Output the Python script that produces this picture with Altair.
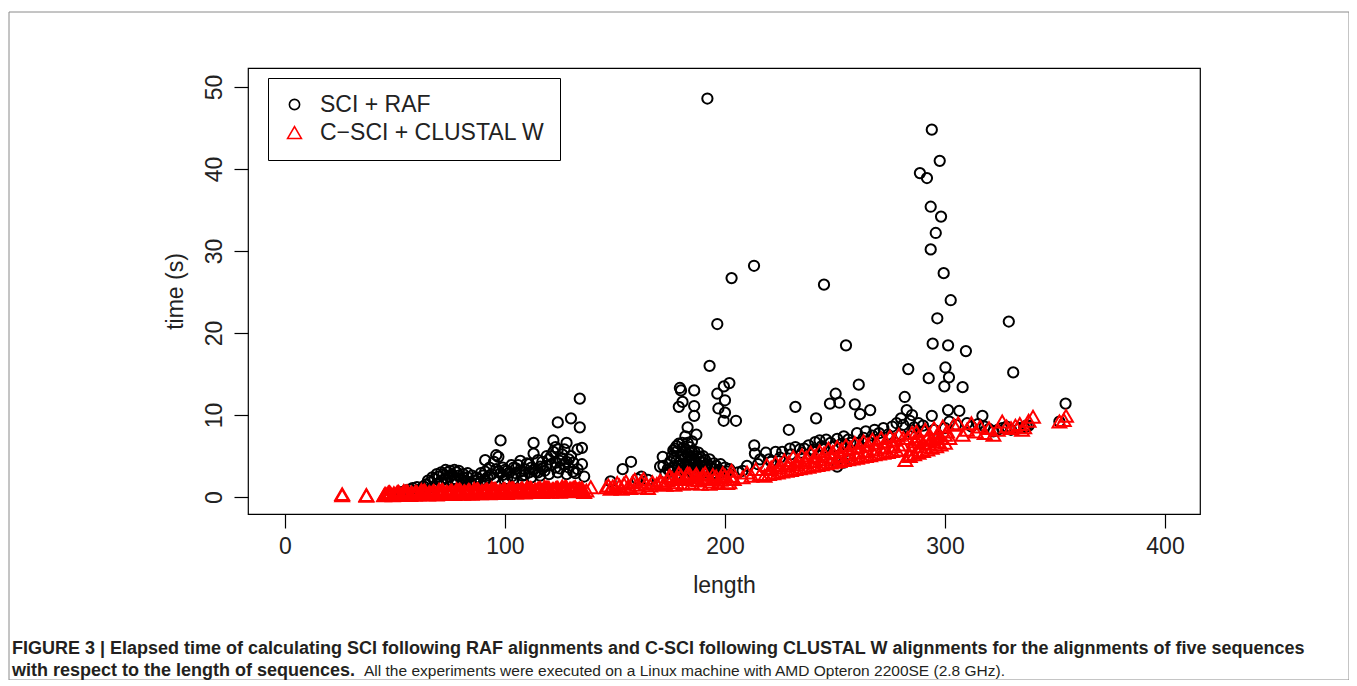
import altair as alt
import pandas as pd

# ---------------- data ----------------
sci_raf_length = [
    49, 53, 55, 57, 58, 60, 61, 62, 63, 64, 65, 66, 67, 67, 68, 69, 69, 70, 71, 71, 72, 72, 73, 73, 74, 74, 75,
    75, 76, 76, 77, 77, 78, 78, 79, 79, 80, 80, 81, 81, 82, 83, 83, 84, 85, 85, 86, 87, 87, 88, 89, 89, 90,
    91, 91, 91, 92, 93, 93, 94, 95, 95, 96, 96, 97, 97, 98, 98, 99, 99, 100, 100, 101, 101, 102, 103, 103, 104,
    104, 105, 105, 106, 107, 107, 108, 108, 109, 109, 110, 111, 111, 112, 112, 113, 113, 113, 114, 115, 115,
    116, 116, 117, 117, 118, 119, 119, 120, 120, 121, 121, 122, 122, 123, 123, 123, 124, 124, 124, 125, 125,
    126, 126, 127, 127, 128, 128, 128, 129, 129, 130, 130, 131, 131, 132, 133, 133, 134, 134, 135, 135, 136,
    148, 153.5, 157.3, 160, 162, 165,
    170.5, 171.7, 172, 173, 174, 175, 175, 176, 176.5, 177, 177.3, 178, 178, 179, 179, 179.5, 180, 180, 180.6,
    180.7, 181, 181, 182, 182, 183, 183, 184, 184, 185, 185, 186, 186, 186, 186, 187, 187, 188, 188, 189, 190,
    190, 191, 192, 192, 193, 193, 194, 195, 196, 196.5, 196.5, 197, 198, 199.5, 199.4, 200, 200, 202, 202, 203,
    205, 206, 208, 178, 180, 182, 183, 185, 187, 189, 191, 184, 186, 188, 176, 179, 181,
    177, 178, 180, 181, 182, 183, 184, 185, 186, 187, 188, 189, 190, 191, 192, 193, 194, 195, 196, 197, 198,
    199, 200, 201,
    213.2, 213.6, 213.3, 216, 218.6, 221, 223, 226, 229, 229.5, 232, 232, 234, 236, 238, 240, 241, 241.4, 243,
    244, 245, 246, 247.7, 248, 250.3, 251, 252, 253, 254, 255, 256, 257, 259, 260, 260.8, 261.4, 263, 264, 266,
    267, 268, 270, 272, 274, 276, 278, 280, 281, 281.7, 282.6, 283.3, 284, 285, 286, 288, 288.6, 290, 291.8,
    292.6, 293.5, 293.5, 294, 294, 294.4, 295.8, 296.5, 297.6, 298.2, 299.4, 299.7, 300.2, 301.4, 301.4, 301.8,
    302.6, 302, 305, 306.5, 308, 309.5, 310, 312, 315, 317, 320, 324, 329, 331, 328, 334, 337, 354.8, 352,
    248, 251, 254, 257,
    210, 215, 220, 225, 230, 235, 240, 245, 250, 255, 260, 265, 270, 275, 280, 285, 290, 295, 300,
    318, 322, 326, 330, 336, 338,
]
sci_raf_time = [
    0.3, 0.6, 0.8, 0.9, 1.1, 1.2, 0.9, 1.0, 1.3, 1.5, 2.0, 1.8, 1.2, 2.4, 2.2, 1.6, 2.8, 2.5, 2.0, 3.0, 2.8, 1.5,
    2.3, 3.3, 3.0, 2.1, 3.2, 2.5, 2.7, 1.9, 3.3, 2.2, 3.0, 2.0, 2.6, 3.2, 2.2, 1.4, 2.8, 2.4, 2.0, 2.4, 2.9, 1.8,
    1.5, 2.6, 2.0, 1.6, 2.4, 2.2, 1.9, 2.9, 2.6,
    3.1, 4.5, 2.1, 2.4, 3.6, 2.6, 2.8, 4.3, 2.3, 5.1, 3.4, 4.9, 3.1, 6.9, 2.9, 2.7, 3.6, 3.3, 2.0, 2.2, 3.2, 3.0,
    2.5, 3.9, 3.6, 2.2, 2.9, 3.5, 3.9, 3.1, 4.4, 2.6, 2.0, 3.4, 2.7, 4.1, 3.0, 4.0, 3.6, 2.4, 5.3, 6.6, 3.3, 3.1,
    4.5, 3.0, 3.7, 2.6, 4.3, 3.5, 3.2, 3.8, 5.0, 4.6, 2.8, 5.0, 4.0, 5.5, 6.9, 4.2, 6.1, 3.6, 9.1, 5.8, 3.0, 3.5,
    4.4, 5.2, 4.7, 4.0, 5.8, 6.6, 4.3, 2.8, 3.6, 4.6, 9.6, 5.0, 3.1, 4.2, 2.9, 5.8, 3.4, 12.0, 8.5, 6.0, 4.0, 2.5,
    1.9, 3.4, 4.3, 2.2, 2.5, 2.1,
    3.7, 4.9, 3.8, 2.9, 3.4, 3.1, 4.3, 5.0, 5.7, 3.6, 5.9, 4.4, 2.8, 11.0, 3.8, 13.3, 13.0, 5.2, 6.6, 11.6, 4.0,
    3.2, 4.8, 7.4, 8.5, 3.6, 6.1, 4.4, 5.5, 3.0, 13.0, 11.1, 9.9, 4.0, 7.6, 5.0, 3.5, 4.6, 3.8, 3.2, 4.2, 3.6,
    48.6, 3.0, 16.0, 3.8, 2.8, 3.4, 2.9, 21.1, 12.6, 10.8, 3.2, 13.5, 9.3, 11.8, 10.3, 13.9, 3.4, 26.7, 9.3, 3.0,
    3.2, 5.5, 4.5, 5.8, 5.2, 4.8, 4.2, 4.8, 4.5, 3.4, 3.2, 2.8, 3.6, 6.5, 6.0,
    4.8, 6.2, 3.5, 5.0, 3.9, 6.6, 5.4, 6.8, 5.6, 3.6, 5.4, 4.3, 5.0, 3.0, 4.0, 4.6, 3.5, 4.1, 3.8, 3.3, 4.0,
    3.0, 3.6, 3.1,
    28.2, 5.3, 6.3, 4.6, 5.4, 4.3, 5.5, 5.5, 8.2, 5.9, 11.0, 6.1, 5.8, 5.9, 6.3, 5.6, 6.7, 9.6, 6.9, 6.2, 25.9,
    7.0, 11.4, 6.6, 12.6, 7.1, 11.5, 6.5, 7.4, 18.5, 7.0, 6.6, 11.3, 7.8, 13.7, 10.1, 7.2, 8.0, 10.6, 7.5, 8.2,
    7.8, 8.4, 7.6, 8.6, 9.0, 9.6, 8.8, 12.2, 10.6, 15.6, 9.3, 10.0, 8.5, 9.0, 39.5, 8.7, 38.9, 14.5, 35.4, 30.2,
    44.8, 9.9, 18.7, 32.2, 21.8, 41.0, 34.2, 27.3, 13.5, 15.8, 18.5, 10.6, 14.6, 24.0, 9.2, 8.8, 10.5, 13.4, 17.8,
    9.0, 8.6, 8.9, 9.9, 8.3, 8.2, 21.4, 15.2, 8.6, 8.4, 8.7, 11.4, 9.2,
    4.0, 3.7, 4.2, 4.5,
    3.8, 4.0, 4.6, 4.8, 5.2, 5.4, 5.8, 6.0, 6.2, 6.4, 6.6, 6.8, 7.0, 7.2, 7.6, 7.8, 8.0, 8.2, 8.4,
    8.6, 8.0, 8.4, 8.2, 8.5, 8.7,
]

csci_length = [
    26, 26, 37, 37,
    45, 47, 49, 51, 53, 55, 57, 59, 61, 63, 65, 67, 69, 71, 73, 75, 77, 79, 81, 83, 85, 87, 89, 91, 93, 95,
    97, 99, 101, 103, 105, 107, 109, 111, 113, 115, 117, 119, 121, 123, 125, 127, 129, 131,
    48, 52, 56, 60, 64, 68, 72, 76, 80, 84, 88, 92, 96, 100, 104, 108, 112, 116, 120, 124, 128, 132,
    46, 50, 54, 58, 62, 66, 70, 74, 78, 82, 86, 90, 94, 98, 102, 106, 110, 114, 118, 122, 126, 130, 134,
    54, 62, 70, 78, 86, 94, 102, 110, 118, 126,
    47, 51, 55, 59, 63, 67, 71, 75, 79, 83, 87, 91, 95, 99, 103, 107, 111, 115, 119, 123, 127, 131, 135,
    45.5, 49.5, 53.5, 57.5, 61.5, 65.5, 69.5, 73.5, 77.5, 81.5, 85.5, 89.5, 93.5, 97.5, 101.5, 105.5, 109.5,
    113.5, 117.5, 121.5, 125.5, 129.5, 133.5,
    47.5, 51.5, 55.5, 59.5, 63.5, 67.5, 71.5, 75.5, 79.5, 83.5, 87.5, 91.5, 95.5, 99.5, 103.5, 107.5, 111.5,
    115.5, 119.5, 123.5, 127.5, 131.5,
    133, 135, 137, 139, 136, 146, 148, 147,
    150, 152, 154, 156, 158, 160, 162, 164, 166, 153, 157, 161, 165, 151, 155, 159, 163, 149, 167,
    169, 171, 172, 174, 176, 178, 180, 182, 184, 186, 188, 190, 192, 194, 196, 198, 200, 202, 204,
    173, 177, 181, 185, 189, 193, 197, 201, 183, 187, 203,
    175, 179, 183, 187, 191, 195, 199, 203, 179, 191,
    170.5, 174.5, 178.5, 182.5, 186.5, 190.5, 194.5, 198.5, 202.5,
    208, 210, 212, 214, 216,
    218, 220, 222, 224, 226, 228, 230, 232, 234, 236, 238, 240, 242, 244, 246, 248, 250, 252, 254, 256, 258,
    260, 262, 264, 266, 268, 270, 272, 274, 276, 278, 280, 282, 284, 286, 288, 290, 292, 294, 296, 298, 300,
    220.5, 224.5, 228.5, 232.5, 236.5, 240.5, 244.5, 248.5, 252.5, 256.5, 260.5, 264.5, 268.5, 272.5, 276.5,
    280.5, 284.5, 288.5, 292.5, 296.5,
    219, 223, 227, 231, 235, 239, 243, 247, 251, 255, 259, 263, 267, 271, 275, 279, 283, 285, 287, 289, 291,
    293, 295, 297, 299, 301,
    221, 225, 229, 233, 237, 241, 245, 249, 253, 257, 261, 265, 269, 273, 277, 281, 284, 286, 288, 290, 292,
    294, 296, 298, 300,
    302, 304, 306, 308, 310, 312, 314, 316, 318, 320, 322, 324, 326, 328, 330, 332, 334, 336, 338, 340, 335,
    352, 354, 355,
]
csci_time = [
    0.2, 0.35, 0.25, 0.15,
    0.2, 0.25, 0.2, 0.3, 0.25, 0.3, 0.25, 0.3, 0.3, 0.35, 0.3, 0.35, 0.3, 0.4, 0.35, 0.4, 0.35, 0.45, 0.4,
    0.45, 0.4, 0.5, 0.45, 0.5, 0.45, 0.55, 0.5, 0.55, 0.5, 0.6, 0.55, 0.6, 0.55, 0.65, 0.6, 0.65, 0.6, 0.7,
    0.65, 0.7, 0.65, 0.75, 0.7, 0.75,
    0.45, 0.5, 0.55, 0.6, 0.6, 0.65, 0.7, 0.75, 0.75, 0.8, 0.85, 0.9, 0.9, 0.95, 1.0, 1.0, 1.05, 1.1, 1.1,
    1.15, 1.2, 1.2,
    0.3, 0.35, 0.4, 0.4, 0.45, 0.5, 0.5, 0.55, 0.6, 0.6, 0.65, 0.7, 0.7, 0.75, 0.8, 0.8, 0.85, 0.9, 0.9, 0.95,
    1.0, 1.0, 1.05,
    0.75, 0.85, 0.9, 0.95, 1.0, 1.1, 1.15, 1.2, 1.25, 1.3,
    0.55, 0.6, 0.65, 0.5, 0.7, 0.6, 0.75, 0.65, 0.8, 0.7, 0.85, 0.8, 0.95, 0.85, 1.0, 0.9, 1.05, 1.0, 1.15,
    1.05, 1.15, 1.1, 0.9,
    0.4, 0.45, 0.5, 0.55, 0.5, 0.6, 0.55, 0.65, 0.6, 0.7, 0.65, 0.75, 0.7, 0.8, 0.75, 0.85, 0.8, 0.9, 0.85,
    0.95, 0.9, 1.0, 0.95,
    0.6, 0.65, 0.7, 0.65, 0.8, 0.75, 0.85, 0.8, 0.9, 0.85, 0.95, 0.9, 1.0, 0.95, 1.05, 1.0, 1.1, 1.05, 1.15,
    1.1, 1.2, 1.15,
    0.9, 1.1, 0.8, 1.2, 0.6, 1.2, 1.0, 1.4,
    1.1, 1.4, 1.6, 1.3, 1.8, 1.5, 1.9, 1.6, 1.4, 1.0, 1.1, 1.2, 1.1, 1.7, 1.9, 2.1, 2.2, 1.3, 1.8,
    1.6, 1.8, 1.6, 2.0, 2.3, 1.8, 2.6, 2.2, 2.8, 2.4, 2.0, 2.7, 2.3, 1.9, 2.5, 2.1, 2.6, 1.8, 2.2,
    1.5, 1.5, 1.6, 1.7, 1.6, 1.6, 1.7, 1.7, 2.9, 2.8, 3.2,
    2.6, 2.9, 2.4, 2.1, 2.9, 2.2, 2.9, 2.6, 2.2, 2.2,
    2.0, 2.5, 2.4, 2.7, 2.6, 2.4, 2.7, 2.4, 2.5,
    2.4, 3.0, 2.6, 3.4, 2.8,
    2.6, 2.8, 2.9, 3.0, 3.1, 3.2, 3.3, 3.4, 3.5, 3.6, 3.7, 3.8, 3.9, 4.0, 4.1, 4.2, 4.3, 4.4, 4.5, 4.6, 4.7,
    4.8, 4.9, 5.0, 5.1, 5.2, 5.3, 5.4, 5.5, 5.6, 5.7, 5.8, 4.5, 5.0, 5.2, 5.4, 5.6, 5.8, 6.0, 6.2, 6.4, 6.6,
    3.4, 3.6, 3.8, 4.0, 4.2, 4.4, 4.6, 4.8, 5.0, 5.2, 5.4, 5.6, 5.8, 6.0, 6.2, 6.4, 5.8, 6.2, 6.5, 6.8,
    3.9, 4.2, 4.5, 4.9, 5.1, 5.4, 5.6, 5.9, 6.1, 6.3, 6.6, 6.8, 7.0, 7.2, 7.4, 7.6, 7.2, 7.8, 8.0, 7.0, 8.2,
    7.6, 8.4, 7.8, 8.6, 8.0,
    3.6, 3.9, 4.2, 4.5, 4.8, 5.0, 5.3, 5.5, 5.8, 6.0, 6.2, 6.4, 6.6, 6.8, 7.0, 7.2, 5.2, 6.8, 7.4, 6.6, 7.2,
    7.0, 7.4, 7.2, 7.6,
    7.2, 8.8, 9.0, 7.6, 8.2, 9.0, 8.0, 8.6, 7.8, 8.4, 7.6, 8.2, 9.2, 8.6, 8.4, 8.7, 8.9, 8.5, 9.3, 9.8, 8.2,
    9.2, 9.4, 9.9,
]

series_names = ["SCI + RAF", "C\u2212SCI + CLUSTAL W"]
series_colors = ["black", "red"]
series_shapes = ["circle", "triangle-up"]
series_sizes = [105, 190]

x_ticks = [0, 100, 200, 300, 400]
y_ticks = [0, 10, 20, 30, 40, 50]

caption_line1 = ("FIGURE 3 | Elapsed time of calculating SCI following RAF alignments and C-SCI following "
                 "CLUSTAL W alignments for the alignments of five sequences")
caption_line2_bold = "with respect to the length of sequences."
caption_line2_regular = ("All the experiments were executed on a Linux machine with AMD Opteron 2200SE (2.8 GHz).")

# ---------------- build ----------------
df = pd.concat([
    pd.DataFrame({"length": sci_raf_length, "time": sci_raf_time, "series": series_names[0]}),
    pd.DataFrame({"length": csci_length, "time": csci_time, "series": series_names[1]}),
], ignore_index=True)

FONT = "Liberation Sans"
CAPFONT = "Liberation Sans"
TXT = "#222222"
W, H = 952, 446

leg = alt.Legend(title=None, orient="none", legendX=20, legendY=10, padding=15,
                 strokeColor="black", fillColor="white", cornerRadius=0,
                 labelFont=FONT, labelFontSize=23, labelColor=TXT, labelLimit=500,
                 labelOffset=14, rowPadding=4, symbolStrokeWidth=1.6)

points = alt.Chart(df).mark_point(filled=False, strokeWidth=2.0, opacity=1).encode(
    x=alt.X("length:Q",
            scale=alt.Scale(domain=[-16.8, 415.9], nice=False, zero=False),
            axis=alt.Axis(values=x_ticks, title="length", domain=False, grid=False,
                          tickSize=14, tickColor="black", tickWidth=1.2,
                          labelFont=FONT, labelFontSize=23, labelColor=TXT, labelPadding=7,
                          labelFlush=False, labelOverlap=False,
                          titleFont=FONT, titleFontSize=23, titleFontWeight="normal", titleColor=TXT,
                          titleX=476, titleY=71, titleAlign="center", titleBaseline="middle")),
    y=alt.Y("time:Q",
            scale=alt.Scale(domain=[-2.07, 52.32], nice=False, zero=False),
            axis=alt.Axis(values=y_ticks, title="time (s)", domain=False, grid=False,
                          tickSize=14, tickColor="black", tickWidth=1.2,
                          labelFont=FONT, labelFontSize=23, labelColor=TXT, labelPadding=8,
                          labelAngle=270, labelAlign="center", labelBaseline="bottom",
                          labelFlush=False, labelOverlap=False,
                          titleFont=FONT, titleFontSize=23, titleFontWeight="normal", titleColor=TXT,
                          titleAngle=270, titleX=-73, titleY=223, titleAlign="center",
                          titleBaseline="middle")),
    color=alt.Color("series:N", scale=alt.Scale(domain=series_names, range=series_colors), legend=leg),
    shape=alt.Shape("series:N", scale=alt.Scale(domain=series_names, range=series_shapes), legend=leg),
    size=alt.Size("series:N", scale=alt.Scale(domain=series_names, range=series_sizes), legend=leg),
)

one = pd.DataFrame({"k": [0]})
frame = alt.Chart(one).mark_rect(fillOpacity=0, stroke="#8a8a8a", strokeWidth=1).encode(
    x=alt.value(-239), x2=alt.value(1101), y=alt.value(-56), y2=alt.value(612))

cap1 = alt.Chart(pd.DataFrame({"t": [caption_line1]})).mark_text(
    align="left", baseline="alphabetic", font=CAPFONT, fontSize=18.0, fontWeight="bold", color="#231f20"
).encode(text="t:N", x=alt.value(-236), y=alt.value(586))

cap2b = alt.Chart(pd.DataFrame({"t": [caption_line2_bold]})).mark_text(
    align="left", baseline="alphabetic", font=CAPFONT, fontSize=18.0, fontWeight="bold", color="#231f20"
).encode(text="t:N", x=alt.value(-236), y=alt.value(608))

cap2r = alt.Chart(pd.DataFrame({"t": [caption_line2_regular]})).mark_text(
    align="left", baseline="alphabetic", font=CAPFONT, fontSize=15.5, fontWeight="normal", color="#231f20"
).encode(text="t:N", x=alt.value(116), y=alt.value(608))

chart = alt.layer(frame, points, cap1, cap2b, cap2r).properties(
    width=W, height=H,
    autosize=alt.AutoSizeParams(type="none"),
    padding={"left": 240, "top": 60, "right": 149, "bottom": 166},
    background="white",
).configure_view(stroke="black", strokeWidth=1.2)

chart.save("out.html", embed_options={"renderer": "svg", "actions": False})
